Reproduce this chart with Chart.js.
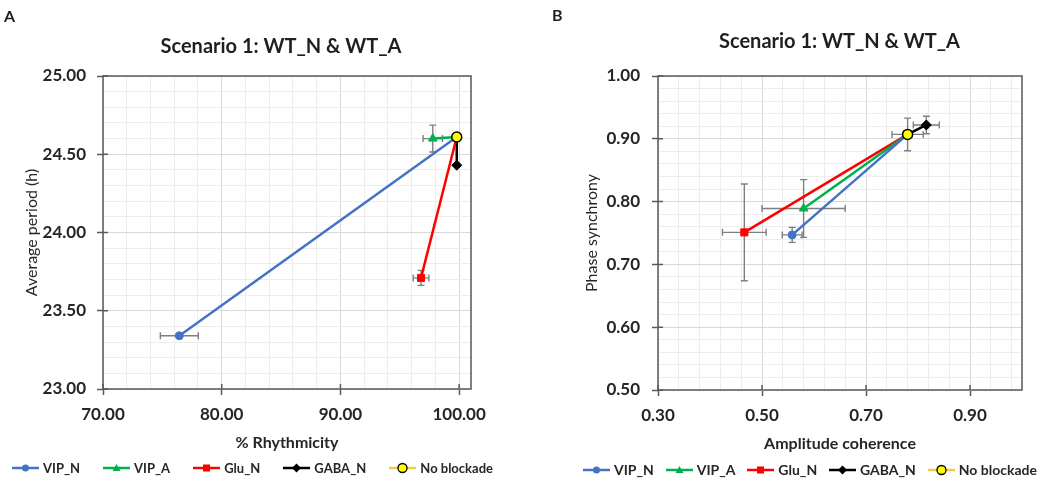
<!DOCTYPE html>
<html><head><meta charset="utf-8">
<script src="https://cdn.jsdelivr.net/npm/chart.js@4.4.0/dist/chart.umd.min.js"></script>
<style>
html,body{margin:0;padding:0;background:#fff;}
#wrap{position:relative;width:1050px;height:488px;overflow:hidden;font-family:Lato,"Open Sans",sans-serif;color:#1f1f1f;}
canvas{position:absolute;top:0;}
.lbl{position:absolute;font-weight:700;}
.title{position:absolute;font-weight:700;font-size:20px;line-height:24px;text-align:center;white-space:nowrap;color:#1f1f1f;}
.legend{position:absolute;display:flex;justify-content:space-between;align-items:center;font-weight:700;white-space:nowrap;color:#262626;}
.item{display:flex;align-items:center;}
.item svg{margin-right:4px;display:block;}
</style></head>
<body><div id="wrap">
<canvas id="cA" width="525" height="488" style="left:0"></canvas>
<canvas id="cB" width="525" height="488" style="left:525px"></canvas>
<div class="lbl" style="left:4px;top:6px;font-size:16px">A</div>
<div class="lbl" style="left:552px;top:5px;font-size:16px">B</div>
<div class="title" style="left:0;width:562px;top:33px">Scenario 1: WT_N &amp; WT_A</div>
<div class="title" style="left:629px;width:421px;top:28px">Scenario 1: WT_N &amp; WT_A</div>
<div class="legend" id="legA" style="left:12px;width:481px;top:460px;font-size:13px"></div>
<div class="legend" id="legB" style="left:583px;width:454px;top:461px;font-size:14px"></div>
</div>
<script>
// ---------- data ----------
const seriesNames = ['VIP_N', 'VIP_A', 'Glu_N', 'GABA_N', 'No blockade'];

// Panel A
const rhythmicity    = [76.43, 97.78, 96.79, 99.80, 99.80];
const rhythmicityErr = [1.6, 0.82, 0.66, 0, 0];
const avgPeriod      = [23.34, 24.60, 23.71, 24.43, 24.61];
const avgPeriodErr   = [0, 0.086, 0.048, 0, 0];
const rhythmicityTicks = [70, 80, 90, 100];
const avgPeriodTicks   = [23.0, 23.5, 24.0, 24.5, 25.0];

// Panel B
const ampCoherence    = [0.558, 0.580, 0.466, 0.816, 0.780];
const ampCoherenceErr = [0.019, 0.08, 0.042, 0.025, 0.03];
const phaseSync       = [0.747, 0.789, 0.751, 0.922, 0.907];
const phaseSyncErr    = [0.012, 0.046, 0.077, 0.014, 0.026];
const ampCoherenceTicks = [0.30, 0.50, 0.70, 0.90];
const phaseSyncTicks    = [0.50, 0.60, 0.70, 0.80, 0.90, 1.00];

// ---------- styles ----------
const seriesColors = ['#4472C4', '#00B050', '#FF0000', '#000000', '#FFFF00'];
const legendLineColors = ['#4472C4', '#00B050', '#FF0000', '#000000', '#F2C94C'];
const pointStyles = ['circle', 'triangle', 'rect', 'rectRot', 'circle'];
const pointRadii = [4, 5, 5, 5, 5];
const FONT = 'Lato';

function buildDatasets(xs, ys) {
  const nb = xs.length - 1;
  const ds = [];
  for (let i = 0; i < nb; i++) {
    ds.push({
      label: seriesNames[i],
      data: [{x: xs[i], y: ys[i]}, {x: xs[nb], y: ys[nb]}],
      showLine: true,
      borderColor: seriesColors[i],
      backgroundColor: seriesColors[i],
      borderWidth: 2.5,
      pointStyle: pointStyles[i],
      pointRadius: [pointRadii[i], 0],
      pointHoverRadius: [pointRadii[i], 0],
      pointBackgroundColor: seriesColors[i],
      pointBorderColor: seriesColors[i],
      pointBorderWidth: 1,
      order: 1
    });
  }
  ds.push({
    label: seriesNames[nb],
    data: [{x: xs[nb], y: ys[nb]}],
    showLine: false,
    pointStyle: 'circle',
    pointRadius: pointRadii[nb],
    pointBackgroundColor: seriesColors[nb],
    pointBorderColor: '#000000',
    pointBorderWidth: 1.5,
    order: 0
  });
  return ds;
}

function near(a, b) { return Math.abs(a - b) < 1e-6; }

function axis(o) {
  const isMaj = v => o.majors.some(m => near(m, v));
  return {
    type: 'linear',
    min: o.min, max: o.max,
    afterBuildTicks: s => {
      const t = [];
      for (let k = 0; ; k++) {
        const v = +(o.min + k * o.minor).toFixed(6);
        if (v > o.max + 1e-9) break;
        t.push({value: v});
      }
      if (!near(t[t.length - 1].value, o.max)) t.push({value: o.max});
      s.ticks = t;
    },
    afterFit: s => { if (o.isX) s.height = o.size; else s.width = o.size; },
    ticks: {
      autoSkip: false, maxRotation: 0, minRotation: 0,
      padding: o.tickPad, color: '#262626',
      font: {family: FONT, size: 17, weight: 'bold'},
      callback: v => isMaj(v) ? Number(v).toFixed(2) : ''
    },
    grid: {
      color: c => (c.tick && isMaj(c.tick.value)) ? '#D9D9D9' : '#EDEDED',
      lineWidth: 1,
      drawTicks: true,
      tickLength: 6,
      tickWidth: 1.5,
      tickColor: c => (c.tick && isMaj(c.tick.value)) ? '#595959' : 'rgba(0,0,0,0)'
    },
    border: {display: false},
    title: {
      display: true, text: o.title, color: '#262626',
      font: {family: FONT, size: 16, weight: o.isX ? 'bold' : 'normal'},
      padding: o.isX ? {top: 0, bottom: o.titlePad} : {top: o.titlePad, bottom: 0}
    }
  };
}

function decoPlugin(xs, ys, xe, ye, xMaj, yMaj) {
  return {
    id: 'deco',
    beforeDatasetsDraw(chart) {
      const {ctx, chartArea: a, scales: {x, y}} = chart;
      ctx.save();
      ctx.strokeStyle = '#595959';
      ctx.lineWidth = 1.5;
      ctx.strokeRect(a.left, a.top, a.right - a.left, a.bottom - a.top);
      ctx.beginPath();
      xMaj.forEach(v => { const p = x.getPixelForValue(v); ctx.moveTo(p, a.bottom); ctx.lineTo(p, a.bottom - 5); });
      yMaj.forEach(v => { const p = y.getPixelForValue(v); ctx.moveTo(a.left, p); ctx.lineTo(a.left + 5, p); });
      ctx.stroke();
      ctx.strokeStyle = '#7F7F7F';
      ctx.lineWidth = 1.4;
      const cap = 3.5;
      ctx.beginPath();
      for (let i = 0; i < xs.length; i++) {
        const px = x.getPixelForValue(xs[i]), py = y.getPixelForValue(ys[i]);
        if (xe[i] > 0) {
          const x1 = x.getPixelForValue(xs[i] - xe[i]), x2 = x.getPixelForValue(xs[i] + xe[i]);
          ctx.moveTo(x1, py); ctx.lineTo(x2, py);
          ctx.moveTo(x1, py - cap); ctx.lineTo(x1, py + cap);
          ctx.moveTo(x2, py - cap); ctx.lineTo(x2, py + cap);
        }
        if (ye[i] > 0) {
          const y1 = y.getPixelForValue(ys[i] - ye[i]), y2 = y.getPixelForValue(ys[i] + ye[i]);
          ctx.moveTo(px, y1); ctx.lineTo(px, y2);
          ctx.moveTo(px - cap, y1); ctx.lineTo(px + cap, y1);
          ctx.moveTo(px - cap, y2); ctx.lineTo(px + cap, y2);
        }
      }
      ctx.stroke();
      ctx.restore();
    }
  };
}

function makeChart(id, g) {
  return new Chart(document.getElementById(id), {
    type: 'scatter',
    data: {datasets: buildDatasets(g.xs, g.ys)},
    options: {
      responsive: false, animation: false, events: [],
      layout: {padding: {left: 0, top: g.top, right: g.right, bottom: 0}},
      plugins: {legend: {display: false}, title: {display: false}, tooltip: {enabled: false}},
      scales: {
        x: axis({isX: true, min: g.xMin, max: g.xMax, minor: g.xMinor, majors: g.xMaj, size: g.xSize, tickPad: 9, title: g.xTitle, titlePad: g.xTitlePad}),
        y: axis({isX: false, min: g.yMin, max: g.yMax, minor: g.yMinor, majors: g.yMaj, size: g.ySize, tickPad: g.yTickPad, title: g.yTitle, titlePad: g.yTitlePad})
      }
    },
    plugins: [decoPlugin(g.xs, g.ys, g.xe, g.ye, g.xMaj, g.yMaj)]
  });
}

makeChart('cA', {
  xs: rhythmicity, ys: avgPeriod, xe: rhythmicityErr, ye: avgPeriodErr,
  xMin: 70, xMax: 101, xMinor: 2, xMaj: rhythmicityTicks,
  yMin: 23, yMax: 25, yMinor: 0.1, yMaj: avgPeriodTicks,
  top: 76, right: 54, xSize: 99, ySize: 103, yTickPad: 11,
  xTitle: '% Rhythmicity', yTitle: 'Average period (h)', xTitlePad: 36, yTitlePad: 22
});
makeChart('cB', {
  xs: ampCoherence, ys: phaseSync, xe: ampCoherenceErr, ye: phaseSyncErr,
  xMin: 0.3, xMax: 1.0, xMinor: 0.04, xMaj: ampCoherenceTicks,
  yMin: 0.5, yMax: 1.0, yMinor: 0.02, yMaj: phaseSyncTicks,
  top: 76, right: 28, xSize: 98, ySize: 133, yTickPad: 12,
  xTitle: 'Amplitude coherence', yTitle: 'Phase synchrony', xTitlePad: 35, yTitlePad: 57
});

// ---------- HTML legends ----------
function markerSvg(i) {
  const c = seriesColors[i], lc = legendLineColors[i];
  let m = '';
  const cx = 13.5, cy = 6;
  if (pointStyles[i] === 'circle' && i === seriesNames.length - 1) m = `<circle cx="${cx}" cy="${cy}" r="4.5" fill="${c}" stroke="#000" stroke-width="1.3"/>`;
  else if (pointStyles[i] === 'circle') m = `<circle cx="${cx}" cy="${cy}" r="3.5" fill="${c}"/>`;
  else if (pointStyles[i] === 'triangle') m = `<polygon points="${cx},${cy-4} ${cx+4},${cy+3} ${cx-4},${cy+3}" fill="${c}"/>`;
  else if (pointStyles[i] === 'rect') m = `<rect x="${cx-3.5}" y="${cy-3.5}" width="7" height="7" fill="${c}"/>`;
  else m = `<polygon points="${cx},${cy-4.5} ${cx+4.5},${cy} ${cx},${cy+4.5} ${cx-4.5},${cy}" fill="${c}"/>`;
  return `<svg width="27" height="12" viewBox="0 0 27 12"><line x1="0" y1="6" x2="27" y2="6" stroke="${lc}" stroke-width="2.5"/>${m}</svg>`;
}
['legA', 'legB'].forEach(id => {
  const el = document.getElementById(id);
  seriesNames.forEach((n, i) => {
    const d = document.createElement('div');
    d.className = 'item';
    d.innerHTML = markerSvg(i) + '<span>' + n + '</span>';
    el.appendChild(d);
  });
});
</script>
</body></html>
